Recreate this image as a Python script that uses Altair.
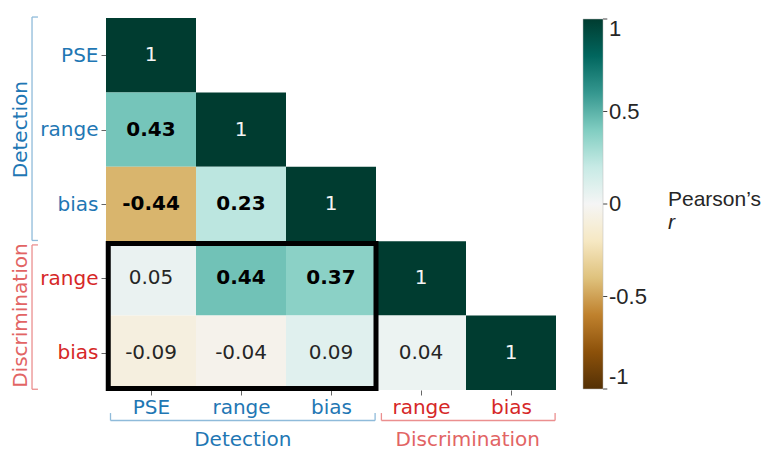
import json
import altair as alt
import pandas as pd

# ---------------- data ----------------
tick_names = ["PSE", "range", "bias", "range", "bias"]
group_names = ["Detection", "Discrimination"]
group_spans = [[0, 3], [3, 5]]          # index range of each group on both axes
r_rows = [
    [1.0],
    [0.43, 1.0],
    [-0.44, 0.23, 1.0],
    [0.05, 0.44, 0.37, 1.0],
    [-0.09, -0.04, 0.09, 0.04, 1.0],
]
box_span = {"x": [0, 3], "y": [3, 5]}   # highlighted Detection x Discrimination block
cbar_ticks = [-1, -0.5, 0, 0.5, 1]
cbar_title = "Pearson’s"
cbar_symbol = "r"
# ColorBrewer BrBG (11 classes), as used by matplotlib's BrBG
brbg = ["#543005", "#8c510a", "#bf812d", "#dfc27d", "#f6e8c3", "#f5f5f5",
        "#c7eae5", "#80cdc1", "#35978f", "#01665e", "#003c30"]
brbg_stops = [-1 + 0.2 * k for k in range(11)]

FONT = "DejaVu Sans"
CB_FONT = "Liberation Sans"
FS = 20
BLUE, RED = "#1f77b4", "#d62728"
BLUE_L, RED_L = "#8fbbda", "#eb8f8f"
RED_T = "#e26464"

cells = []
for i, row in enumerate(r_rows):
    for j, v in enumerate(row):
        kind = "diag" if v == 1 else ("bold" if abs(v) >= 0.2 else "norm")
        lab = "1" if v == 1 else f"{v:.2f}"
        cells.append(dict(x0=j, x1=j + 1, y0=i, y1=i + 1, xc=j + 0.5, yc=i + 0.5,
                          r=v, lab=lab, kind=kind))
cells = pd.DataFrame(cells)

xs = alt.Scale(domain=[0, 5], nice=False, zero=False)
ys = alt.Scale(domain=[0, 5], nice=False, zero=False, reverse=True)

label_expr = json.dumps(tick_names) + "[floor(datum.value)]"
lab_color = {"condition": {"test": "datum.value < 3", "value": BLUE}, "value": RED}
common_axis = dict(values=[0.5, 1.5, 2.5, 3.5, 4.5], labelExpr=label_expr,
                   labelColor=lab_color, labelFontSize=FS, labelFont=FONT,
                   domain=False, grid=False, tickSize=5, tickColor="#666666",
                   tickWidth=1, title=None, labelFlush=False, labelOverlap=False)
XA = alt.Axis(orient="bottom", labelAngle=0, labelPadding=2, **common_axis)
YA = alt.Axis(orient="left", labelPadding=3, **common_axis)


def X(f):
    return alt.X(f, scale=xs, axis=XA)


def Y(f):
    return alt.Y(f, scale=ys, axis=YA)


heat = alt.Chart(cells).mark_rect().encode(
    x=X("x0:Q"), x2="x1:Q", y=Y("y0:Q"), y2="y1:Q",
    color=alt.Color("r:Q",
                    scale=alt.Scale(domain=brbg_stops, range=brbg, interpolate="rgb"),
                    legend=alt.Legend(orient="none", legendX=477, legendY=1,
                                      direction="vertical", gradientLength=370,
                                      gradientThickness=20, title=None,
                                      values=cbar_ticks,
                                      labelExpr="'' + datum.value",
                                      labelFontSize=22, labelFont=CB_FONT,
                                      labelColor="#262626", labelOffset=6,
                                      labelBaseline="middle", labelOverlap=False,
                                      gradientStrokeColor="#bbbbbb",
                                      gradientStrokeWidth=0.5)),
)


def txt(kind, color, weight):
    return alt.Chart(cells).transform_filter(f"datum.kind == '{kind}'").mark_text(
        font=FONT, fontSize=FS, fontWeight=weight, color=color,
        align="center", baseline="middle").encode(
        x=X("xc:Q"), y=Y("yc:Q"), text="lab:N")


t_diag = txt("diag", "#f4f4f4", "normal")
t_bold = txt("bold", "black", "bold")
t_norm = txt("norm", "#262626", "normal")

# highlight box
box_df = pd.DataFrame([dict(a=box_span["x"][0] + 0.025, b=box_span["x"][1],
                            c=box_span["y"][0] + 0.03, d=box_span["y"][1] - 0.02)])
box = alt.Chart(box_df).mark_rect(filled=False, stroke="black", strokeWidth=5).encode(
    x=X("a:Q"), x2="b:Q", y=Y("c:Q"), y2="d:Q")

# brackets (annotation) in data units
LX, LX_END = -0.822, -0.756
BY, BY_END = 5.41, 5.31
segs = []
for g, (s, e) in enumerate(group_spans):
    a, b = s + (0.05 if g else -0.013), e - 0.01
    ax, bx = s + (0.06 if g else 0.05), e - 0.01
    for seg in [(LX, a, LX, b), (LX, a, LX_END, a), (LX, b, LX_END, b),
                (ax, BY, bx, BY), (ax, BY, ax, BY_END), (bx, BY, bx, BY_END)]:
        segs.append(dict(g=g, x=seg[0], y=seg[1], x2=seg[2], y2=seg[3]))
segs = pd.DataFrame(segs)


def bracket(g, color):
    return alt.Chart(segs).transform_filter(f"datum.g == {g}").mark_rule(
        color=color, strokeWidth=1.3).encode(
        x=X("x:Q"), x2="x2:Q", y=Y("y:Q"), y2="y2:Q")


# small tick marks beside the colour bar, at the colour-bar tick values
cb_ticks_df = pd.DataFrame([dict(x=5.522, x2=5.57, y=(1 + (1 - v) * 185) / 74.4)
                            for v in cbar_ticks])
cb_tick_marks = alt.Chart(cb_ticks_df).mark_rule(color="#444444", strokeWidth=1).encode(
    x=X("x:Q"), x2="x2:Q", y=Y("y:Q"))

titles = []
for g, (s, e) in enumerate(group_spans):
    mid = (s + e) / 2
    col = BLUE if g == 0 else RED_T
    titles.append(dict(t=group_names[g], x=-0.95, y=mid, ang=270, col=col, bl="middle"))
    titles.append(dict(t=group_names[g], x=mid + 0.02, y=5.75, ang=0, col=col, bl="alphabetic"))
titles = pd.DataFrame(titles)


def gtitle(ang, col, bl):
    return alt.Chart(titles).transform_filter(
        f"datum.ang == {ang} && datum.col == '{col}'").mark_text(
        font=FONT, fontSize=FS, color=col, angle=ang, align="center",
        baseline=bl).encode(x=X("x:Q"), y=Y("y:Q"), text="t:N")


cb_df = pd.DataFrame([dict(t=cbar_title, x=6.244, y=2.45, st="normal"),
                      dict(t=cbar_symbol, x=6.244, y=2.75, st="italic")])


def cbtext(st):
    return alt.Chart(cb_df).transform_filter(f"datum.st == '{st}'").mark_text(
        font=CB_FONT, fontSize=21, color="#262626", fontStyle=st, align="left",
        baseline="middle").encode(x=X("x:Q"), y=Y("y:Q"), text="t:N")


chart = alt.layer(
    heat, t_diag, t_bold, t_norm, box,
    bracket(0, BLUE_L), bracket(1, RED_L), cb_tick_marks,
    gtitle(270, BLUE, "middle"), gtitle(0, BLUE, "alphabetic"),
    gtitle(270, RED_T, "middle"), gtitle(0, RED_T, "alphabetic"),
    cbtext("normal"), cbtext("italic"),
).properties(
    width=450, height=372,
    padding={"left": 98, "top": 10, "right": 206, "bottom": 62},
    autosize=alt.AutoSizeParams(type="none"),
).configure_view(stroke=None)

chart.save("out.html", embed_options={"renderer": "svg", "actions": False})
